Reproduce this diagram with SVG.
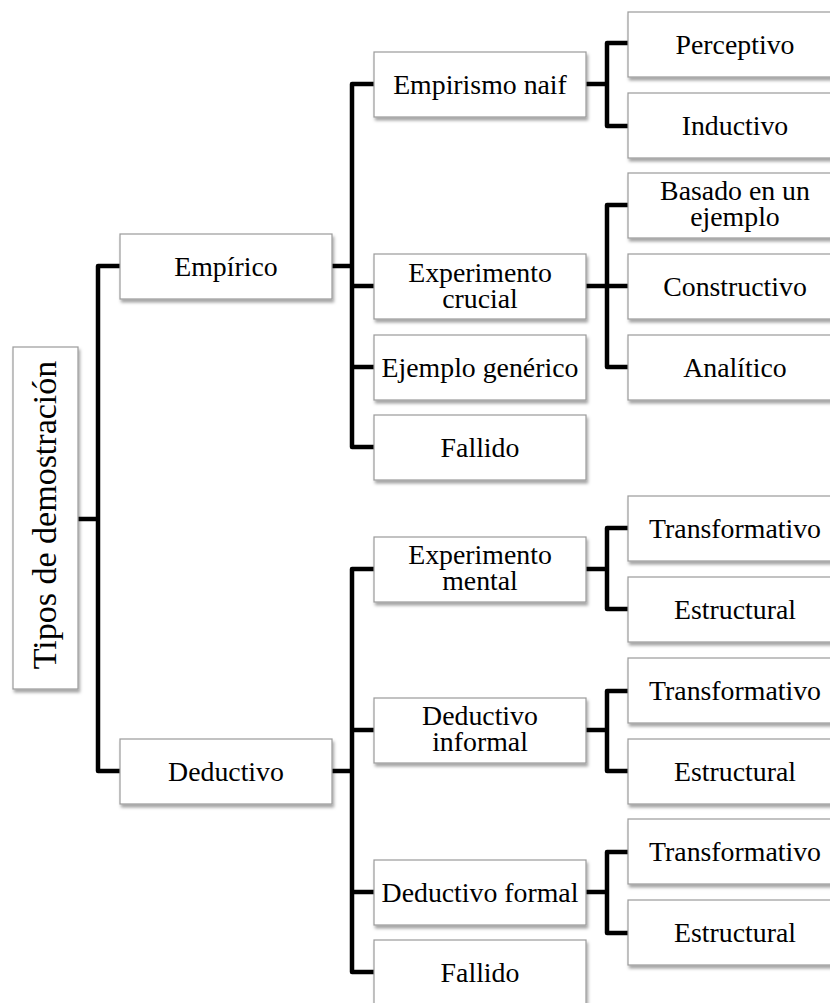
<svg xmlns="http://www.w3.org/2000/svg" width="830" height="1003" viewBox="0 0 830 1003">
<defs>
<filter id="sh" x="-10%" y="-10%" width="130%" height="140%">
<feDropShadow dx="1.5" dy="3" stdDeviation="1.8" flood-color="#000" flood-opacity="0.35"/>
</filter>
<style>
.box{fill:#fff;stroke:#9a9a9a;stroke-width:1.2;filter:url(#sh)}
.t{font-family:"Liberation Serif","Times New Roman",serif;font-size:27.8px;fill:#000;text-anchor:middle}
.root{font-size:34px}
.c{fill:none;stroke:#000;stroke-width:4.5;stroke-linejoin:round;stroke-linecap:butt}
</style>
</defs>
<rect width="830" height="1003" fill="#fff"/>
<g id="connectors">
<path class="c" d="M78,519 H98"/>
<path class="c" d="M120,266 H98 V771 H120"/>
<path class="c" d="M332,266 H352"/>
<path class="c" d="M374,84 H352 V447 H374"/>
<path class="c" d="M352,286 H374 M352,367 H374"/>
<path class="c" d="M332,771 H352"/>
<path class="c" d="M374,569 H352 V972 H374"/>
<path class="c" d="M352,730 H374 M352,892 H374"/>
<path class="c" d="M586,84 H607"/>
<path class="c" d="M628,43 H607 V126 H628"/>
<path class="c" d="M586,286 H628"/>
<path class="c" d="M628,205 H607 V367 H628"/>
<path class="c" d="M586,569 H607"/>
<path class="c" d="M628,528 H607 V609 H628"/>
<path class="c" d="M586,730 H607"/>
<path class="c" d="M628,691 H607 V771 H628"/>
<path class="c" d="M586,892 H607"/>
<path class="c" d="M628,852 H607 V933 H628"/>
</g>
<g id="n-root"><rect class="box" x="13" y="347" width="65" height="342"/><text class="t root" transform="translate(56,515) rotate(-90)">Tipos de demostración</text></g>
<g id="n-empirico"><rect class="box" x="120" y="234" width="212" height="65"/><text class="t" x="226" y="276">Empírico</text></g>
<g id="n-deductivo"><rect class="box" x="120" y="739" width="212" height="65"/><text class="t" x="226" y="781">Deductivo</text></g>
<g id="n-empirismo"><rect class="box" x="374" y="52" width="212" height="65"/><text class="t" x="480" y="94">Empirismo naif</text></g>
<g id="n-expcrucial"><rect class="box" x="374" y="254" width="212" height="65"/><text class="t" x="480" y="281.5">Experimento<tspan x="480" dy="26">crucial</tspan></text></g>
<g id="n-ejemplo"><rect class="box" x="374" y="335" width="212" height="65"/><text class="t" x="480" y="377">Ejemplo genérico</text></g>
<g id="n-fallido1"><rect class="box" x="374" y="415" width="212" height="65"/><text class="t" x="480" y="457">Fallido</text></g>
<g id="n-expmental"><rect class="box" x="374" y="537" width="212" height="65"/><text class="t" x="480" y="563.5">Experimento<tspan x="480" dy="26.5">mental</tspan></text></g>
<g id="n-dedinformal"><rect class="box" x="374" y="698" width="212" height="65"/><text class="t" x="480" y="725">Deductivo<tspan x="480" dy="26">informal</tspan></text></g>
<g id="n-dedformal"><rect class="box" x="374" y="860" width="212" height="65"/><text class="t" x="480" y="902">Deductivo formal</text></g>
<g id="n-fallido2"><rect class="box" x="374" y="940" width="212" height="65"/><text class="t" x="480" y="982">Fallido</text></g>
<g id="n-perceptivo"><rect class="box" x="628" y="12" width="214" height="65"/><text class="t" x="735" y="54">Perceptivo</text></g>
<g id="n-inductivo"><rect class="box" x="628" y="93" width="214" height="65"/><text class="t" x="735" y="135">Inductivo</text></g>
<g id="n-basado"><rect class="box" x="628" y="173" width="214" height="65"/><text class="t" x="735" y="200">Basado en un<tspan x="735" dy="26">ejemplo</tspan></text></g>
<g id="n-constructivo"><rect class="box" x="628" y="254" width="214" height="65"/><text class="t" x="735" y="296">Constructivo</text></g>
<g id="n-analitico"><rect class="box" x="628" y="335" width="214" height="65"/><text class="t" x="735" y="377">Analítico</text></g>
<g id="n-trans1"><rect class="box" x="628" y="496" width="214" height="65"/><text class="t" x="735" y="538">Transformativo</text></g>
<g id="n-estr1"><rect class="box" x="628" y="577" width="214" height="65"/><text class="t" x="735" y="619">Estructural</text></g>
<g id="n-trans2"><rect class="box" x="628" y="658" width="214" height="65"/><text class="t" x="735" y="700">Transformativo</text></g>
<g id="n-estr2"><rect class="box" x="628" y="739" width="214" height="65"/><text class="t" x="735" y="781">Estructural</text></g>
<g id="n-trans3"><rect class="box" x="628" y="819" width="214" height="65"/><text class="t" x="735" y="861">Transformativo</text></g>
<g id="n-estr3"><rect class="box" x="628" y="900" width="214" height="65"/><text class="t" x="735" y="942">Estructural</text></g>
</svg>
